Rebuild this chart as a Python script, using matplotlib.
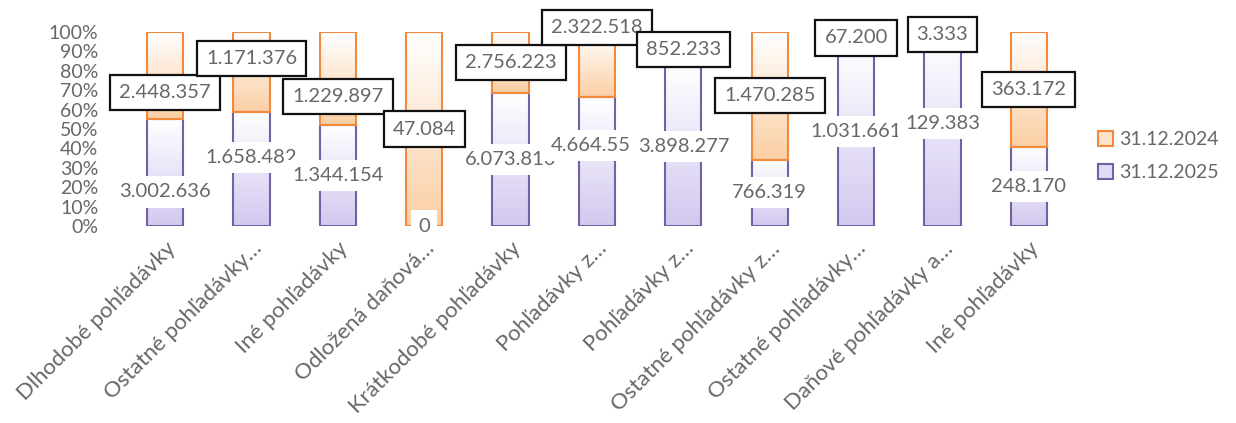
"""Pohladavky - 100% stacked columns"""

import numpy as np
from matplotlib import pyplot as plt
from matplotlib.colors import LinearSegmentedColormap
from matplotlib.patches import Patch

plt.rcParams['font.family'] = ['Lato', 'DejaVu Sans']

categories = ['Dlhodobé pohľadávky', 'Ostatné pohľadávky…', 'Iné pohľadávky',
              'Odložená daňová…', 'Krátkodobé pohľadávky', 'Pohľadávky z…',
              'Pohľadávky z…', 'Ostatné pohľadávky z…', 'Ostatné pohľadávky…',
              'Daňové pohľadávky a…', 'Iné pohľadávky']
vals_2025 = [3002636, 1658482, 1344154, 0, 6073810, 4664559, 3898277,
             766319, 1031661, 129383, 248170]
vals_2024 = [2448357, 1171376, 1229897, 47084, 2756223, 2322518, 852233,
             1470285, 67200, 3333, 363172]
series_names = ['31.12.2024', '31.12.2025']

# manual label nudges (fraction of bar height), like in the original
shift_2025 = [-0.10, 0.06, 0, 0, 0, 0.08, 0, 0, 0.02, 0.04, 0]
shift_2024 = [-0.085, 0.07, -0.095, 0, 0, 0.19, 0, 0, 0, 0, 0]

purple_edge = '#6F62A6'
orange_edge = '#F28A3E'
purple_fill = '#D3C8F0'
orange_fill = '#FBCFA4'
txt = '#676767'

def fmt(v):
    return f'{v:,}'.replace(',', '.')

a = np.array(vals_2025, dtype=float)
b = np.array(vals_2024, dtype=float)
tot = a + b
fa = a / tot
fb = b / tot

fig = plt.figure(figsize=(12.36, 4.23), dpi=100)
ax = fig.add_axes([0.0987, 0.4657, 0.7686, 0.4586])

x = np.arange(len(categories))
w = 0.42
bars_a = ax.bar(x, fa, w, facecolor='none', edgecolor=purple_edge, lw=1.5, zorder=3)
bars_b = ax.bar(x, fb, w, bottom=fa, facecolor='none', edgecolor=orange_edge, lw=1.5, zorder=3)

grad = np.linspace(0, 1, 100).reshape(-1, 1)
for bars, col in [(bars_a, purple_fill), (bars_b, orange_fill)]:
    cmap = LinearSegmentedColormap.from_list('g', [col, '#FFFFFF'])
    for p in bars:
        x0, y0 = p.get_x(), p.get_y()
        hgt = p.get_height()
        if hgt <= 0:
            continue
        im = ax.imshow(grad, cmap=cmap, origin='lower', aspect='auto',
                       extent=[x0, x0 + p.get_width(), y0, y0 + hgt], zorder=2)
        im.set_clip_path(p)

# labels for 2025 (plain, white background)
for i in range(len(x)):
    y = fa[i] / 2 + shift_2025[i]
    ax.text(x[i], y, fmt(vals_2025[i]), ha='center', va='center', fontsize=14.5,
            color=txt, zorder=5,
            bbox=dict(boxstyle='square,pad=0.35', fc='white', ec='none'))

# labels for 2024 (boxed)
for i in range(len(x)):
    y = fa[i] + fb[i] / 2 + shift_2024[i]
    ax.text(x[i], y, fmt(vals_2024[i]), ha='center', va='center', fontsize=14.5,
            color=txt, zorder=6, clip_on=False,
            bbox=dict(boxstyle='square,pad=0.45', fc='white', ec='#111111', lw=1.6))

ax.set_xlim(-0.5, len(x) - 0.5)
ax.set_ylim(0, 1)
ax.set_yticks(np.arange(0, 1.01, 0.1))
ax.set_yticklabels([f'{int(round(t * 100))}%' for t in np.arange(0, 1.01, 0.1)],
                   fontsize=14, color=txt)
ax.set_xticks(x)
ax.set_xticklabels(categories, rotation=45, ha='right', rotation_mode='anchor',
                   fontsize=16, color=txt)
ax.tick_params(axis='y', length=0, pad=17)
ax.tick_params(axis='x', length=0, pad=9)
for s in ax.spines.values():
    s.set_visible(False)

handles = [Patch(facecolor='#FDE3CC', edgecolor=orange_edge, lw=1.5),
           Patch(facecolor='#E3DBF5', edgecolor=purple_edge, lw=1.5)]
leg = fig.legend(handles, series_names, loc='center left',
                 bbox_to_anchor=(1086 / 1236, 0.631), frameon=False,
                 fontsize=14, handlelength=0.8, handleheight=0.8,
                 handletextpad=0.3, labelspacing=0.8, borderaxespad=0.2)
for t in leg.get_texts():
    t.set_color(txt)

fig.savefig('out.png', dpi=100)
